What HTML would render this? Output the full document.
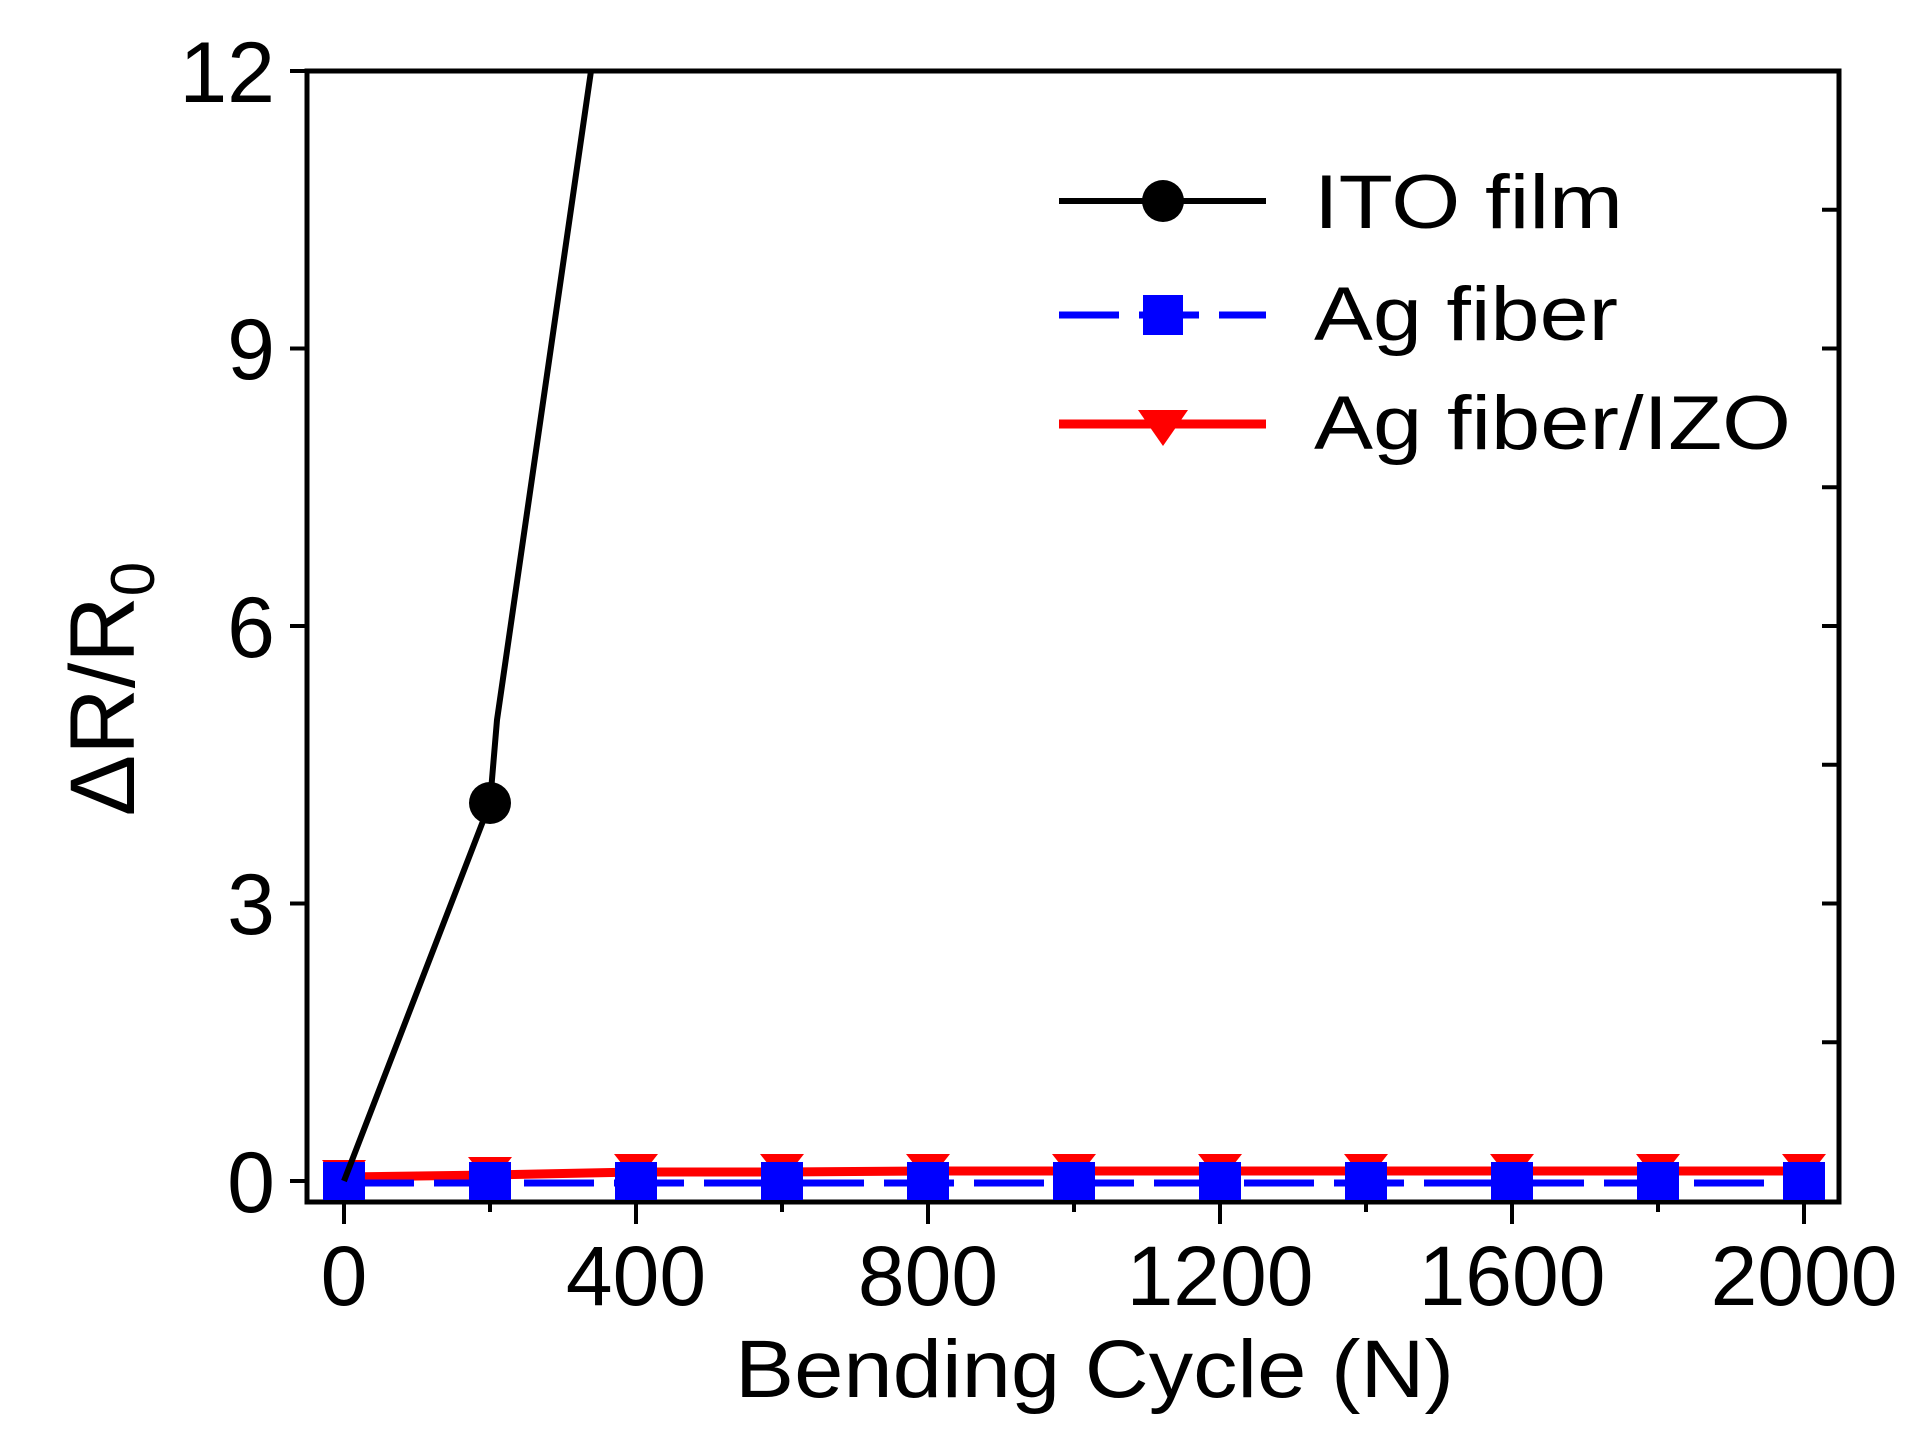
<!DOCTYPE html>
<html><head><style>body{margin:0;background:#fff}</style></head><body>
<svg width="1913" height="1437" xmlns="http://www.w3.org/2000/svg" font-family="Liberation Sans, sans-serif">
<rect width="1913" height="1437" fill="#fff"/>
<rect x="307" y="71" width="1532" height="1131" fill="none" stroke="#000" stroke-width="5"/>
<g stroke="#000" stroke-width="4">
<line x1="290" y1="71" x2="307" y2="71"/><line x1="290" y1="348.5" x2="307" y2="348.5"/><line x1="290" y1="626" x2="307" y2="626"/><line x1="290" y1="903.5" x2="307" y2="903.5"/><line x1="290" y1="1181" x2="307" y2="1181"/>
<line x1="1822" y1="209.75" x2="1839" y2="209.75"/><line x1="1822" y1="348.5" x2="1839" y2="348.5"/><line x1="1822" y1="487.25" x2="1839" y2="487.25"/><line x1="1822" y1="626" x2="1839" y2="626"/><line x1="1822" y1="764.75" x2="1839" y2="764.75"/><line x1="1822" y1="903.5" x2="1839" y2="903.5"/><line x1="1822" y1="1042.25" x2="1839" y2="1042.25"/>
<line x1="344" y1="1202" x2="344" y2="1224"/><line x1="636" y1="1202" x2="636" y2="1224"/><line x1="928" y1="1202" x2="928" y2="1224"/><line x1="1220" y1="1202" x2="1220" y2="1224"/><line x1="1512" y1="1202" x2="1512" y2="1224"/><line x1="1804" y1="1202" x2="1804" y2="1224"/>
<line x1="490" y1="1202" x2="490" y2="1212"/><line x1="782" y1="1202" x2="782" y2="1212"/><line x1="1074" y1="1202" x2="1074" y2="1212"/><line x1="1366" y1="1202" x2="1366" y2="1212"/><line x1="1658" y1="1202" x2="1658" y2="1212"/>
</g>
<g font-size="86" fill="#000" text-anchor="end">
<text x="275" y="102">12</text><text x="275" y="379">9</text><text x="275" y="657">6</text><text x="275" y="934">3</text><text x="275" y="1212">0</text>
</g>
<g font-size="84" fill="#000" text-anchor="middle">
<text x="344" y="1305">0</text><text x="636" y="1305">400</text><text x="928" y="1305">800</text><text x="1220" y="1305">1200</text><text x="1512" y="1305">1600</text><text x="1804" y="1305">2000</text>
</g>
<text x="735" y="1397" font-size="82" textLength="719" lengthAdjust="spacingAndGlyphs">Bending Cycle (N)</text>
<text transform="translate(134,689) rotate(-90)" font-size="92" text-anchor="middle">ΔR/R<tspan font-size="62" dy="20">0</tspan></text>
<polyline points="344,1177 490,1175 636,1172 782,1172 928,1171 1074,1171 1220,1171 1366,1171 1512,1171 1658,1171 1804,1171" fill="none" stroke="#f00" stroke-width="9"/>
<g fill="#f00">
<polygon points="322,1160 366,1160 344,1188"/>
<polygon points="468,1157 512,1157 490,1185"/>
<polygon points="614,1154 658,1154 636,1182"/>
<polygon points="760,1154 804,1154 782,1182"/>
<polygon points="906,1154 950,1154 928,1182"/>
<polygon points="1052,1154 1096,1154 1074,1182"/>
<polygon points="1198,1154 1242,1154 1220,1182"/>
<polygon points="1344,1154 1388,1154 1366,1182"/>
<polygon points="1490,1154 1534,1154 1512,1182"/>
<polygon points="1636,1154 1680,1154 1658,1182"/>
<polygon points="1782,1154 1826,1154 1804,1182"/>
</g>
<line x1="344" y1="1183" x2="1804" y2="1183" stroke="#00f" stroke-width="7" stroke-dasharray="70,20"/>
<g fill="#00f">
<rect x="323" y="1162" width="42" height="38"/><rect x="469" y="1162" width="42" height="38"/><rect x="615" y="1162" width="42" height="38"/><rect x="761" y="1162" width="42" height="38"/><rect x="907" y="1162" width="42" height="38"/><rect x="1053" y="1162" width="42" height="38"/><rect x="1199" y="1162" width="42" height="38"/><rect x="1345" y="1162" width="42" height="38"/><rect x="1491" y="1162" width="42" height="38"/><rect x="1637" y="1162" width="42" height="38"/><rect x="1783" y="1162" width="42" height="38"/>
</g>
<polyline points="344,1181 490,803 497,720 591,71" fill="none" stroke="#000" stroke-width="6"/>
<circle cx="490" cy="803" r="21" fill="#000"/>
<line x1="1059" y1="201" x2="1266" y2="201" stroke="#000" stroke-width="6"/>
<circle cx="1163" cy="201" r="21" fill="#000"/>
<line x1="1059" y1="315" x2="1266" y2="315" stroke="#00f" stroke-width="7" stroke-dasharray="60,20"/>
<rect x="1143" y="295" width="40" height="40" fill="#00f"/>
<line x1="1059" y1="424" x2="1266" y2="424" stroke="#f00" stroke-width="9"/>
<polygon points="1138,410 1188,410 1163,446" fill="#f00"/>
<g font-size="76" fill="#000" lengthAdjust="spacingAndGlyphs">
<text x="1314" y="228" textLength="309" lengthAdjust="spacingAndGlyphs">ITO film</text><text x="1314" y="340" textLength="304" lengthAdjust="spacingAndGlyphs">Ag fiber</text><text x="1314" y="449" textLength="477" lengthAdjust="spacingAndGlyphs">Ag fiber/IZO</text>
</g>
</svg>
</body></html>
